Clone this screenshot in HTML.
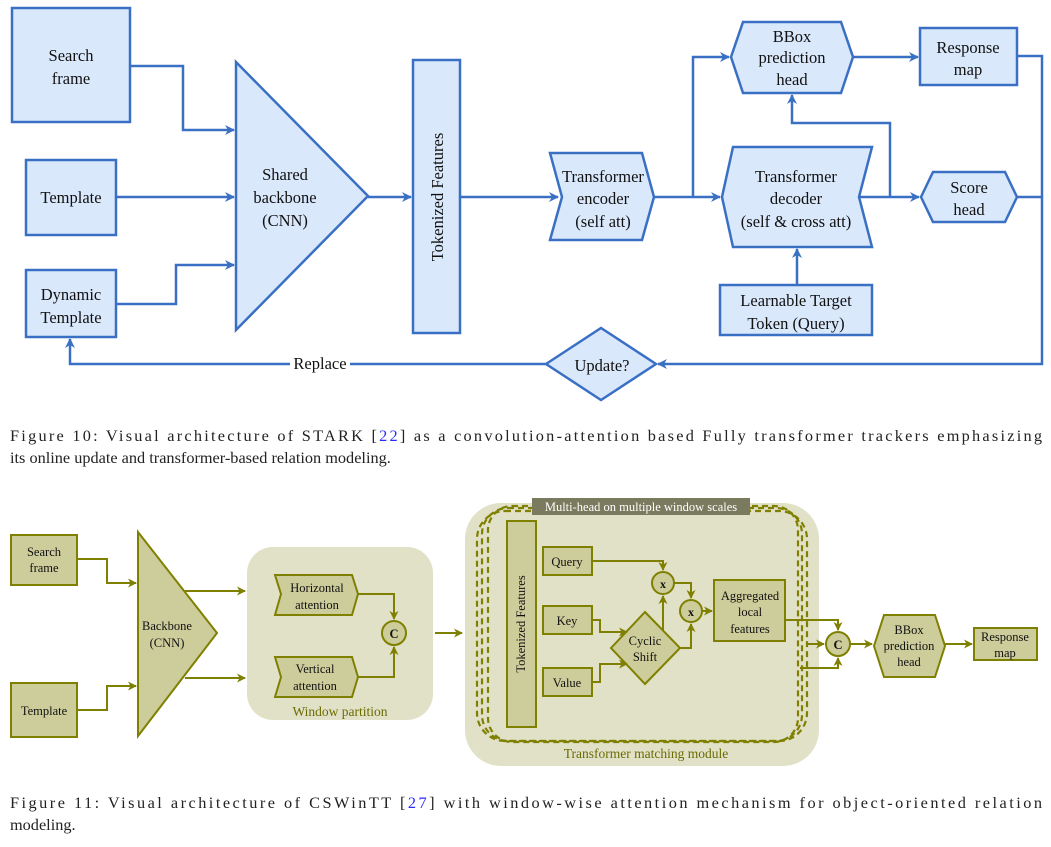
<!DOCTYPE html>
<html><head><meta charset="utf-8"><style>
html,body{margin:0;padding:0;background:#fff;}
svg{display:block;}
.cap{font-family:"Liberation Serif",serif;font-size:16.3px;fill:#222;}
</style></head><body>
<svg width="1051" height="847" viewBox="0 0 1051 847" xmlns="http://www.w3.org/2000/svg" font-family="Liberation Serif, serif">
<defs>
<marker id="ab" markerWidth="10" markerHeight="10" refX="9" refY="5" orient="auto" markerUnits="userSpaceOnUse"><path d="M0,0 L10,5 L0,10 L3,5 z" fill="#3a70c4"/></marker>
<marker id="ao" markerWidth="9" markerHeight="9" refX="8" refY="4.5" orient="auto" markerUnits="userSpaceOnUse"><path d="M0,0 L9,4.5 L0,9 L2.5,4.5 z" fill="#7f7f00"/></marker>
</defs>
<!-- TOP FIGURE -->
<g stroke="#3a70c4" stroke-width="2.5" fill="#dae8fc">
<rect x="12" y="8" width="118" height="114"/>
<rect x="26" y="160" width="90" height="75"/>
<rect x="26" y="270" width="90" height="67"/>
<polygon points="236,62 236,330 368,196"/>
<rect x="413" y="60" width="47" height="273"/>
<polygon points="550,153 642,153 654,197 642,240 550,240 562,197"/>
<polygon points="733,147 872,147 859,197 872,247 733,247 722,197"/>
<polygon points="743,22 841,22 853,57 841,93 743,93 731,57"/>
<rect x="920" y="28" width="97" height="57"/>
<polygon points="933,172 1005,172 1017,197 1005,222 933,222 921,197"/>
<rect x="720" y="285" width="152" height="50"/>
<polygon points="546,364 601,328 656,364 601,400"/>
</g>
<g stroke="#3a70c4" stroke-width="2.5" fill="none">
<polyline points="130,66 183,66 183,130 234,130" marker-end="url(#ab)"/>
<polyline points="116,197 234,197" marker-end="url(#ab)"/>
<polyline points="116,304 176,304 176,265 234,265" marker-end="url(#ab)"/>
<polyline points="368,197 411,197" marker-end="url(#ab)"/>
<polyline points="460,197 558,197" marker-end="url(#ab)"/>
<polyline points="654,197 720,197" marker-end="url(#ab)"/>
<polyline points="693,197 693,57 729,57" marker-end="url(#ab)"/>
<polyline points="853,57 918,57" marker-end="url(#ab)"/>
<polyline points="859,197 919,197" marker-end="url(#ab)"/>
<polyline points="890,197 890,123 792,123 792,95" marker-end="url(#ab)"/>
<polyline points="797,285 797,249" marker-end="url(#ab)"/>
<polyline points="1017,56 1042,56 1042,364 658,364" marker-end="url(#ab)"/>
<polyline points="1017,197 1042,197"/>
<polyline points="546,364 70,364 70,339" marker-end="url(#ab)"/>
</g>
<rect x="290" y="354" width="60" height="18" fill="#fff"/>
<g font-size="16.5" fill="#111" text-anchor="middle">
<text x="71" y="61">Search</text><text x="71" y="84">frame</text>
<text x="71" y="203">Template</text>
<text x="71" y="300">Dynamic</text><text x="71" y="323">Template</text>
<text x="285" y="180">Shared</text><text x="285" y="203">backbone</text><text x="285" y="226">(CNN)</text>
<text transform="translate(443,197) rotate(-90)">Tokenized Features</text>
<text x="603" y="182">Transformer</text><text x="603" y="204">encoder</text><text x="603" y="227">(self att)</text>
<text x="796" y="182">Transformer</text><text x="796" y="204">decoder</text><text x="796" y="227">(self &amp; cross att)</text>
<text x="792" y="42">BBox</text><text x="792" y="63">prediction</text><text x="792" y="85">head</text>
<text x="968" y="53">Response</text><text x="968" y="75">map</text>
<text x="969" y="193">Score</text><text x="969" y="215">head</text>
<text x="796" y="306">Learnable Target</text><text x="796" y="329">Token (Query)</text>
<text x="602" y="371">Update?</text>
<text x="320" y="369">Replace</text>
</g>
<text class="cap" x="10" y="441" textLength="1032" lengthAdjust="spacing">Figure 10: Visual architecture of STARK [<tspan fill="#2a2aff">22</tspan>] as a convolution-attention based Fully transformer trackers emphasizing</text>
<text class="cap" x="10" y="463">its online update and transformer-based relation modeling.</text>

<!-- BOTTOM FIGURE -->
<rect x="247" y="547" width="186" height="173" rx="26" fill="#e1e1c8"/>
<rect x="465" y="503" width="354" height="263" rx="36" fill="#e1e1c8"/>
<g fill="none" stroke="#7f7f00" stroke-width="2.2" stroke-dasharray="6,4">
<rect x="477" y="511" width="330" height="230" rx="28"/>
<rect x="482" y="508" width="320" height="233" rx="26"/>
<rect x="488" y="506" width="310" height="236" rx="24"/>
</g>
<rect x="532" y="498" width="218" height="17" fill="#7a7a5e"/>
<text x="641" y="511" font-size="12.5" fill="#fff" text-anchor="middle">Multi-head on multiple window scales</text>
<g stroke="#7f7f00" stroke-width="2" fill="#cdcd9b">
<rect x="11" y="535" width="66" height="50"/>
<rect x="11" y="683" width="66" height="54"/>
<polygon points="138,532 138,736 217,633"/>
<polygon points="275,575 352,575 358,594 352,615 275,615 281,594"/>
<polygon points="275,657 352,657 358,677 352,697 275,697 281,677"/>
<circle cx="394" cy="633" r="12"/>
<rect x="507" y="521" width="29" height="206"/>
<rect x="543" y="547" width="49" height="28"/>
<rect x="543" y="606" width="49" height="28"/>
<rect x="543" y="668" width="49" height="28"/>
<polygon points="611,648 645,612 680,648 645,684"/>
<circle cx="663" cy="583" r="11"/>
<circle cx="691" cy="611" r="11"/>
<rect x="714" y="580" width="71" height="61"/>
<circle cx="838" cy="644" r="12"/>
<polygon points="884,615 935,615 945,646 935,677 884,677 874,646"/>
<rect x="974" y="628" width="63" height="32"/>
</g>
<g stroke="#7f7f00" stroke-width="2" fill="none">
<polyline points="77,559 107,559 107,583 136,583" marker-end="url(#ao)"/>
<polyline points="77,710 107,710 107,686 136,686" marker-end="url(#ao)"/>
<polyline points="185,591 245,591" marker-end="url(#ao)"/>
<polyline points="185,678 245,678" marker-end="url(#ao)"/>
<polyline points="358,594 394,594 394,619" marker-end="url(#ao)"/>
<polyline points="358,677 394,677 394,647" marker-end="url(#ao)"/>
<polyline points="435,633 462,633" marker-end="url(#ao)"/>
<polyline points="592,561 663,561 663,570" marker-end="url(#ao)"/>
<polyline points="674,583 691,583 691,598" marker-end="url(#ao)"/>
<polyline points="592,620 600,620 600,632 627,632" marker-end="url(#ao)"/>
<polyline points="592,682 600,682 600,664 627,664" marker-end="url(#ao)"/>
<polyline points="663,630 663,596" marker-end="url(#ao)"/>
<polyline points="680,648 691,648 691,624" marker-end="url(#ao)"/>
<polyline points="702,611 712,611" marker-end="url(#ao)"/>
<polyline points="785,620 838,620 838,630" marker-end="url(#ao)"/>
<polyline points="808,644 824,644" marker-end="url(#ao)"/>
<polyline points="800,668 838,668 838,658" marker-end="url(#ao)"/>
<polyline points="850,644 872,644" marker-end="url(#ao)"/>
<polyline points="945,644 972,644" marker-end="url(#ao)"/>
</g>
<g font-size="12.5" fill="#111" text-anchor="middle">
<text x="44" y="556">Search</text><text x="44" y="572">frame</text>
<text x="44" y="715">Template</text>
<text x="167" y="630">Backbone</text><text x="167" y="647">(CNN)</text>
<text x="317" y="592">Horizontal</text><text x="317" y="609">attention</text>
<text x="315" y="673">Vertical</text><text x="315" y="690">attention</text>
<text x="394" y="638" font-weight="bold">C</text>
<text transform="translate(525,624) rotate(-90)">Tokenized Features</text>
<text x="567" y="566">Query</text>
<text x="567" y="625">Key</text>
<text x="567" y="687">Value</text>
<text x="645" y="645">Cyclic</text><text x="645" y="661">Shift</text>
<text x="663" y="588" font-weight="bold" font-size="12">x</text>
<text x="691" y="616" font-weight="bold" font-size="12">x</text>
<text x="750" y="600">Aggregated</text><text x="750" y="616">local</text><text x="750" y="633">features</text>
<text x="838" y="649" font-weight="bold">C</text>
<text x="909" y="634">BBox</text><text x="909" y="650">prediction</text><text x="909" y="666">head</text>
<text x="1005" y="641">Response</text><text x="1005" y="657">map</text>
</g>
<text x="340" y="716" font-size="13.5" fill="#6b6b00" text-anchor="middle">Window partition</text>
<text x="646" y="758" font-size="13.5" fill="#6b6b00" text-anchor="middle">Transformer matching module</text>
<text class="cap" x="10" y="808" textLength="1032" lengthAdjust="spacing">Figure 11: Visual architecture of CSWinTT [<tspan fill="#2a2aff">27</tspan>] with window-wise attention mechanism for object-oriented relation</text>
<text class="cap" x="10" y="830">modeling.</text>
</svg>
</body></html>
